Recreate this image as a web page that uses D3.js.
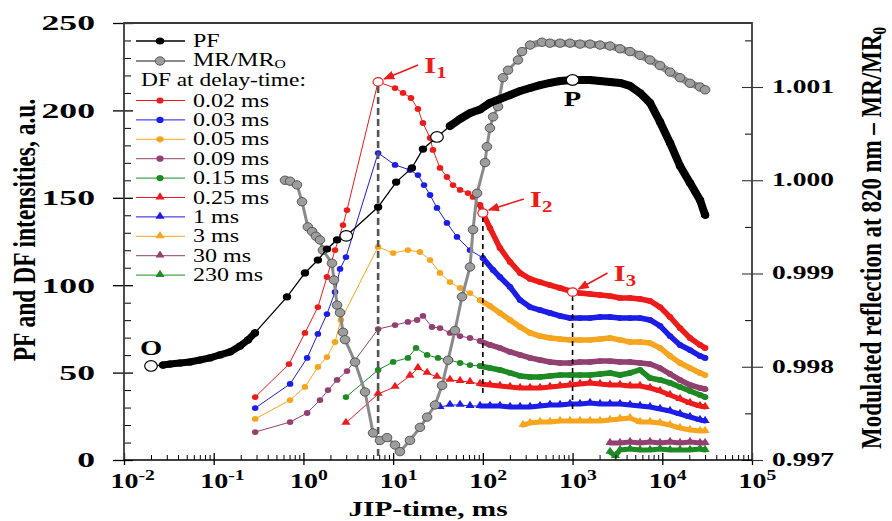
<!DOCTYPE html>
<html><head><meta charset="utf-8">
<script src="https://cdn.jsdelivr.net/npm/d3@7/dist/d3.min.js"></script>
<style>html,body{margin:0;padding:0;background:#fff;} svg{display:block;}</style>
</head><body>
<svg id="chart" width="892" height="521"></svg>
<script>
// ---------------- DATA ----------------
const xTickValues = [1e-2, 1e-1, 1e0, 1e1, 1e2, 1e3, 1e4, 1e5];
const xTickExponents = ["-2", "-1", "0", "1", "2", "3", "4", "5"];
const yLeftTicks = [0, 50, 100, 150, 200, 250];
const yRightTicks = [0.997, 0.998, 0.999, 1.000, 1.001];
const yRightLabels = ["0.997", "0.998", "0.999", "1.000", "1.001"];
const yRightMinor = [0.9975, 0.9985, 0.9995, 1.0005, 1.0015];

// PF (prompt fluorescence) [time ms, a.u.]
const pf = [[0.02,53.8],[0.0272,54.3],[0.0326,54.9],[0.0421,55.5],[0.0544,56.1],[0.0703,57.2],[0.0909,58.4],[0.1175,60.1],[0.152,61.8],[0.196,65.2],[0.241,68.7],[0.288,72.7],[0.656,93.3],[1.04,107.0],[1.45,114.4],[1.83,120.7],[2.37,125.9],[3.0,128.2],[6.8,144.7],[10.8,159.0],[16.2,167.1],[21.5,177.9],[30.8,184.8],[43,191.1],[55.7,195.1],[71.9,198.5],[93,200.5],[120,204.3],[155,206.5],[201,208.8],[260,211.1],[336,212.8],[434,214.5],[560,215.7],[725,216.8],[1000,217.4],[1211,217.4],[1565,217.4],[2023,216.8],[2615,216.3],[3380,215.7],[4370,214.0],[5650,210.0],[7300,204.3],[9440,193.4],[12200,181.4],[15770,168.2],[20380,158.5],[26340,148.7],[30000,140.2]];
const pfOpenTimes = [0.02, 3.0, 30.8, 1000];

// MR/MR0 (right axis)
const mr = [[0.623,1.00000],[0.71,0.99999],[0.848,0.99995],[0.964,0.99977],[1.12,0.99950],[1.25,0.99945],[1.38,0.99940],[1.53,0.99936],[1.65,0.99925],[2.08,0.99911],[2.19,0.99893],[2.37,0.99866],[2.56,0.99858],[2.76,0.99837],[2.91,0.99829],[3.76,0.99805],[4.86,0.99773],[5.97,0.99729],[7.14,0.99721],[8.55,0.99724],[10.5,0.99716],[11.9,0.99709],[15.4,0.99721],[19.9,0.99735],[23.9,0.99746],[29.3,0.99759],[35.1,0.99780],[40.9,0.99807],[48.9,0.99839],[58.6,0.99875],[71.9,0.99907],[77.7,0.99947],[86.1,0.99986],[105.7,1.00019],[111,1.00036],[120,1.00056],[130,1.00068],[147.5,1.00079],[167.8,1.00110],[190.8,1.00118],[246.6,1.00129],[273.3,1.00138],[336,1.00145],[456,1.00148],[560,1.00147],[725,1.00147],[937,1.00147],[1211,1.00146],[1565,1.00146],[2023,1.00145],[2615,1.00144],[3380,1.00141],[4370,1.00138],[5650,1.00134],[7300,1.00129],[9440,1.00123],[12200,1.00116],[15770,1.00110],[20380,1.00104],[26340,1.00100],[30000,1.00097]];

// DF at delay-times
const df002 = [[0.29,36.0],[0.69,54.9],[1.04,72.7],[1.45,87.5],[1.83,104.7],[2.25,120.1],[2.76,134.4],[3.06,143.0],[6.8,216.3],[10.5,212.8],[12.9,210.0],[15.8,207.1],[18.9,200.8],[21.5,192.8],[25.8,184.2],[27.8,177.4],[33.3,167.1],[39.8,161.9],[46.5,157.3],[55.7,154.5],[68.3,152.7],[77.7,150.5],[93,145.9],[100,141.3],[120,132.7],[155,121.3],[201,113.3],[260,107.0],[336,103.6],[434,101.8],[560,100.1],[725,98.4],[937,96.7],[1000,96.1],[1211,95.5],[1565,95.0],[2023,94.4],[2615,93.8],[3380,92.7],[4370,92.7],[5650,92.1],[7300,91.0],[9440,87.5],[12200,81.8],[15770,75.5],[20380,69.8],[26340,65.8],[30000,64.1]];
const df003 = [[0.29,29.7],[0.71,43.5],[1.10,58.4],[1.45,72.1],[1.83,83.5],[2.25,96.1],[2.56,109.3],[2.98,116.1],[6.8,175.6],[10.5,168.8],[15.4,165.9],[18.9,163.0],[22.1,157.3],[25.8,151.6],[30.8,144.2],[39.8,135.6],[51.5,127.6],[71.9,120.1],[100,115.6],[130,108.7],[155,104.7],[201,99.0],[260,91.5],[336,87.5],[434,85.8],[560,84.1],[725,82.4],[937,81.2],[1211,81.2],[1565,81.2],[2023,81.8],[2615,81.8],[3380,81.2],[4370,81.2],[5650,81.2],[7300,80.1],[9440,76.7],[12200,70.9],[15770,65.8],[20380,62.9],[26340,59.5],[30000,58.4]];
const df005 = [[0.29,23.5],[0.71,34.3],[1.04,41.8],[1.45,53.2],[1.83,58.9],[2.25,67.5],[2.62,80.1],[6.8,121.9],[10,118.4],[14.6,120.1],[19.9,119.0],[25.8,114.4],[33.3,107.0],[43,101.8],[55.7,98.4],[71.9,95.5],[93,91.5],[120,88.1],[155,84.1],[201,80.1],[260,76.1],[336,72.7],[434,70.9],[560,69.8],[725,69.2],[937,68.7],[1211,68.7],[1565,68.7],[2023,69.2],[2615,69.8],[3380,68.7],[4370,67.5],[5650,67.5],[7300,66.9],[9440,64.1],[12200,59.5],[15770,55.5],[20380,52.6],[26340,49.8],[30000,48.6]];
const df009 = [[0.29,16.0],[0.71,21.7],[1.10,26.9],[1.53,34.3],[1.88,40.0],[2.37,45.8],[3.06,50.9],[6.8,74.9],[10.5,77.2],[14.6,79.0],[18.5,80.1],[21.5,82.4],[27.1,76.1],[33.3,75.5],[43,72.7],[55.7,70.9],[71.9,69.8],[93,68.1],[120,65.8],[155,64.1],[201,61.8],[260,60.1],[336,58.4],[434,57.2],[560,56.1],[725,55.5],[937,55.5],[1211,56.1],[1565,56.1],[2023,56.6],[2615,56.6],[3380,56.1],[4370,56.1],[5650,55.5],[7300,54.9],[9440,52.6],[12200,49.2],[15770,45.8],[20380,42.9],[26340,41.2],[30000,40.6]];
const df015 = [[2.98,36.0],[6.8,51.5],[10,56.1],[14.6,58.4],[18.0,64.1],[23.9,60.1],[31.6,58.4],[43,57.2],[55.7,55.5],[71.9,54.3],[93,53.8],[120,52.6],[155,51.5],[201,49.8],[260,48.1],[336,47.5],[434,47.5],[560,48.1],[725,48.6],[937,48.6],[1211,48.6],[1565,48.6],[2023,49.2],[2615,49.8],[3380,48.6],[4370,49.8],[5650,51.5],[7300,46.9],[9440,45.8],[12200,44.1],[15770,41.8],[20380,39.5],[26340,37.2],[30000,36.0]];
const df025 = [[2.98,21.2],[6.8,37.8],[10.5,41.8],[15.4,48.1],[18.9,52.6],[23.9,49.8],[30.8,47.5],[43,45.8],[55.7,45.2],[71.9,44.6],[93,43.5],[120,42.9],[155,42.3],[201,41.8],[260,41.2],[336,41.2],[434,41.2],[560,41.8],[725,42.3],[937,42.9],[1211,43.5],[1565,44.1],[2023,43.5],[2615,42.9],[3380,42.9],[4370,42.3],[5650,42.3],[7300,41.2],[9440,39.5],[12200,37.2],[15770,34.9],[20380,32.6],[26340,30.9],[30000,30.3]];
const df1 = [[33.3,30.3],[43,31.5],[55.7,31.5],[71.9,30.9],[93,30.9],[120,30.9],[155,30.9],[201,30.3],[260,30.3],[336,30.3],[434,30.9],[560,31.5],[725,31.5],[937,32.0],[1211,32.0],[1565,32.6],[2023,32.0],[2615,32.0],[3380,32.0],[4370,31.5],[5650,30.9],[7300,30.3],[9440,29.2],[12200,28.0],[15770,26.3],[20380,24.6],[26340,22.9],[30000,22.3]];
const df3 = [[280,20.0],[336,21.2],[434,21.7],[560,21.7],[725,22.3],[937,22.3],[1211,22.3],[1565,22.3],[2023,22.3],[2615,22.9],[3380,23.5],[4370,24.0],[5650,21.7],[7300,21.7],[9440,21.2],[12200,20.0],[15770,18.3],[20380,17.2],[26340,16.6],[30000,16.6]];
const df30 = [[2615,9.7],[3380,9.7],[4370,10.3],[5650,9.7],[7300,10.3],[9440,9.7],[12200,10.3],[15770,9.7],[20380,10.3],[26340,9.7],[30000,9.7]];
const df230 = [[2615,4.6],[3000,2.3],[3380,5.7],[4370,6.3],[5650,5.7],[7300,5.7],[9440,6.3],[12200,5.7],[15770,5.7],[20380,5.7],[26340,6.3],[30000,5.7]];

const dfLabels = ["0.02 ms","0.03 ms","0.05 ms","0.09 ms","0.15 ms","0.25 ms","1 ms","3 ms","30 ms","230 ms"];
const dfOpenTimes = [6.8, 100, 1000];   // I1, I2, I3 on 0.02 ms curve
const dfOpenValues = [216.3, 141.3, 96.1];
const dashBottomValues = [0, 36, 27];

// ---------------- STYLE ----------------
const RED="#ee1b1b", BLUE="#1d1de8", ORANGE="#f7a51e", PURPLE="#924070", GREEN="#1e8a24";
const FONT="'Liberation Serif','Times New Roman',serif";
const dfStyle = [
  {data:df002,color:RED,shape:"c"},{data:df003,color:BLUE,shape:"c"},{data:df005,color:ORANGE,shape:"c"},
  {data:df009,color:PURPLE,shape:"c"},{data:df015,color:GREEN,shape:"c"},{data:df025,color:RED,shape:"t"},
  {data:df1,color:BLUE,shape:"t"},{data:df3,color:ORANGE,shape:"t"},{data:df30,color:PURPLE,shape:"t"},
  {data:df230,color:GREEN,shape:"t"}
];

const svg=d3.select("#chart");
const x=d3.scaleLog().domain([1e-2,1e5]).range([124,752]);
const yL=d3.scaleLinear().domain([0,250]).range([460,23]);
const yR=d3.scaleLinear().domain([0.997,1.001]).range([460,87]);
const [X0,X1]=x.range(), [Y0,Y1]=yL.range();

// ---------- helpers ----------
function ell(g,cx,cy,rx,ry,fill,stroke,sw){
  return g.append("ellipse").attr("cx",cx).attr("cy",cy).attr("rx",rx).attr("ry",ry)
    .attr("fill",fill).attr("stroke",stroke||"none").attr("stroke-width",sw||0);
}
const triPath=d3.symbol().type(d3.symbolTriangle).size(30)();
function tri(g,cx,cy,color){
  return g.append("path").attr("d",triPath).attr("transform",`translate(${cx},${cy}) scale(1.1,1)`).attr("fill",color);
}
function stext(g,px,py,sx,size,weight,anchor,color){
  return g.append("text").attr("transform",`translate(${px},${py}) scale(${sx},1)`)
    .attr("font-family",FONT).attr("font-size",size).attr("font-weight",weight)
    .attr("text-anchor",anchor).attr("fill",color||"#000");
}

// ---------- DF series ----------
const plot=svg.append("g");
const bandFrom=90;
dfStyle.slice().reverse().forEach(s=>{
  const gl=plot.append("g");
  const ln=d3.line().x(d=>x(d[0])).y(d=>yL(d[1]));
  gl.append("path").attr("d",ln(s.data)).attr("fill","none").attr("stroke",s.color).attr("stroke-width",1);
  const band=s.data.filter(d=>d[0]>=bandFrom);
  if(band.length>1) gl.append("path").attr("d",ln(band)).attr("fill","none").attr("stroke",s.color)
     .attr("stroke-width",s.shape==="c"?5.5:5).attr("stroke-linejoin","round").attr("stroke-linecap","round");
  s.data.forEach(d=>{
    if(s.shape==="c") ell(gl,x(d[0]),yL(d[1]),3.3,2.9,s.color);
    else tri(gl,x(d[0]),yL(d[1])-0.5,s.color);
  });
});

// ---------- dashed verticals ----------
dfOpenTimes.forEach((t,i)=>{
  plot.append("line").attr("x1",x(t)).attr("x2",x(t)).attr("y1",yL(dfOpenValues[i])+4).attr("y2",yL(dashBottomValues[i]))
    .attr("stroke",i===0?"#555":"#000").attr("stroke-width",i===0?2.6:1.6).attr("stroke-dasharray",i===0?"7,4":"5,4");
});

// ---------- MR ----------
const gm=plot.append("g");
const lnR=d3.line().x(d=>x(d[0])).y(d=>yR(d[1]));
gm.append("path").attr("d",lnR(mr)).attr("fill","none").attr("stroke","#8a8a8a").attr("stroke-width",3);
gm.append("path").attr("d",lnR(mr.filter(d=>d[0]>=330))).attr("fill","none").attr("stroke","#8f8f8f").attr("stroke-width",7).attr("stroke-linecap","round");
mr.forEach(d=>ell(gm,x(d[0]),yR(d[1]),4.8,4.2,"#9d9d9d","#4d4d4d",0.9));

// ---------- PF ----------
const gp=plot.append("g");
const lnL=d3.line().x(d=>x(d[0])).y(d=>yL(d[1]));
gp.append("path").attr("d",lnL(pf)).attr("fill","none").attr("stroke","#000").attr("stroke-width",1.3);
gp.append("path").attr("d",lnL(pf.filter(d=>d[0]>0.025&&d[0]<0.3))).attr("fill","none").attr("stroke","#000").attr("stroke-width",7).attr("stroke-linecap","round");
gp.append("path").attr("d",lnL(pf.filter(d=>d[0]>=40))).attr("fill","none").attr("stroke","#000").attr("stroke-width",8).attr("stroke-linecap","round").attr("stroke-linejoin","round");
pf.filter(d=>!pfOpenTimes.includes(d[0])).forEach(d=>ell(gp,x(d[0]),yL(d[1]),4.2,3.6,"#000"));
pf.filter(d=>pfOpenTimes.includes(d[0])).forEach(d=>ell(gp,x(d[0]),yL(d[1]),6.3,5.3,"#fff","#000",1.2));

// open red points
dfOpenTimes.forEach((t,i)=>ell(plot,x(t),yL(dfOpenValues[i]),5,4.2,"#fff",RED,1.2));

// ---------- annotations ----------
const defs=svg.append("defs");
defs.append("marker").attr("id","arr").attr("viewBox","0 0 10 10").attr("refX",9).attr("refY",5)
  .attr("markerWidth",7).attr("markerHeight",7).attr("orient","auto")
  .append("path").attr("d","M0,1 L10,5 L0,9 Z").attr("fill",RED);
const ann=svg.append("g");
const annOffsets=[[46,-9],[47,-6],[41,-11]];
dfOpenTimes.forEach((t,i)=>{
  const px=x(t), py=yL(dfOpenValues[i]);
  const [ox,oy]=annOffsets[i];
  ann.append("line").attr("x1",px+ox-6).attr("y1",py+oy-8).attr("x2",px+6).attr("y2",py-3)
    .attr("stroke",RED).attr("stroke-width",1.6).attr("marker-end","url(#arr)");
  const t1=stext(ann,px+ox,py+oy,1.3,24,"bold","start",RED);
  t1.append("tspan").text("I");
  t1.append("tspan").attr("font-size",16).attr("dy",5).text(String(i+1));
});
// O and P labels
stext(ann,x(pfOpenTimes[0]),yL(pf[0][1])-11,1.3,22,"bold","middle").text("O");
stext(ann,x(1000),yL(217.4)+26,1.3,22,"bold","middle").text("P");

// ---------- axes ----------
const axG=svg.append("g");
// bottom
const gx=axG.append("g").attr("transform",`translate(0,${Y0})`)
  .call(d3.axisBottom(x).tickValues(xTickValues).tickSize(-7).tickFormat(""));
gx.select(".domain").remove();
gx.selectAll(".tick line").attr("y1",5).attr("stroke-width",1.3);
gx.selectAll(".tick").each(function(d,i){
  const t=d3.select(this).append("text").attr("transform","translate(0,28) scale(1.4,1)")
    .attr("x",-10).attr("font-family",FONT).attr("font-size",20).attr("font-weight","bold").attr("fill","#000").attr("text-anchor","start");
  t.append("tspan").text("10");
  t.append("tspan").attr("dy",-8).attr("font-size",14).text(xTickExponents[i]);
});
const minorX=x.ticks().filter(v=>Math.abs(Math.log10(v)-Math.round(Math.log10(v)))>1e-6);
const gxm=axG.append("g").attr("transform",`translate(0,${Y0})`)
  .call(d3.axisBottom(x).tickValues(minorX).tickSize(-5).tickFormat(""));
gxm.select(".domain").remove();
// left
const gyl=axG.append("g").attr("transform",`translate(${X0},0)`)
  .call(d3.axisLeft(yL).tickValues(yLeftTicks).tickSize(11).tickFormat(""));
gyl.select(".domain").remove();
gyl.selectAll(".tick line").attr("x1",9).attr("stroke-width",1.3);
gyl.selectAll(".tick").append("text").attr("transform","translate(-29,0) scale(1.7,1)").attr("dy","0.33em")
  .attr("font-family",FONT).attr("font-size",21).attr("font-weight","bold").attr("fill","#000").attr("text-anchor","end")
  .text(d=>d);
const gylm=axG.append("g").attr("transform",`translate(${X0},0)`)
  .call(d3.axisLeft(yL).tickValues(d3.range(0,251,10).filter(v=>v%50)).tickSize(-7).tickFormat(""));
gylm.select(".domain").remove();
// right
const gyr=axG.append("g").attr("transform",`translate(${X1},0)`)
  .call(d3.axisRight(yR).tickValues(yRightTicks).tickSize(11).tickFormat(""));
gyr.select(".domain").remove();
gyr.selectAll(".tick line").attr("x1",-10).attr("stroke-width",1.1).attr("stroke","#333");
gyr.selectAll(".tick").append("text").attr("transform","translate(20,0) scale(1.45,1)").attr("dy","0.28em")
  .attr("font-family",FONT).attr("font-size",19).attr("font-weight","bold").attr("fill","#000").attr("text-anchor","start")
  .text((d,i)=>yRightLabels[i]);
const gyrm=axG.append("g").attr("transform",`translate(${X1},0)`)
  .call(d3.axisRight(yR).tickValues(yRightMinor).tickSize(-7).tickFormat(""));
gyrm.select(".domain").remove();
// frame
axG.append("path").attr("d",`M${X0},${Y0}V${Y1}H${X1}V${Y0}`).attr("fill","none").attr("stroke","#3a3a3a").attr("stroke-width",1.8);
axG.append("line").attr("x1",X0).attr("x2",X1).attr("y1",Y0).attr("y2",Y0).attr("stroke","#000").attr("stroke-width",1.5);

// axis titles
stext(axG,(X0+X1)/2-10,516,1.33,22,"bold","middle").text("JIP-time, ms");
axG.append("text").attr("transform","translate(24,230) rotate(-90) scale(1,1.35)").attr("dy","0.35em")
  .attr("font-family",FONT).attr("font-size",23.5).attr("font-weight","bold").attr("text-anchor","middle").text("PF and DF intensities, a.u.");
const rt=axG.append("text").attr("transform","translate(871,238) rotate(-90) scale(1,1.25)").attr("dy","0.35em")
  .attr("font-family",FONT).attr("font-size",23).attr("font-weight","bold").attr("text-anchor","middle");
rt.append("tspan").text("Modulated reflection at 820 nm \u2013 MR/MR");
rt.append("tspan").attr("font-size",15).attr("dy",4).text("0");

// ---------- legend ----------
const lg=svg.append("g");
const LX0=136, LX1=185, LM=160, LT=193;
// PF
lg.append("line").attr("x1",LX0).attr("x2",LX1).attr("y1",41).attr("y2",41).attr("stroke","#000").attr("stroke-width",1.3);
ell(lg,LM,41,4.2,3.6,"#000");
stext(lg,LT,47,1.3,18.5,"normal","start").text("PF");
// MR
lg.append("line").attr("x1",LX0).attr("x2",LX1).attr("y1",61).attr("y2",61).attr("stroke","#8a8a8a").attr("stroke-width",2);
ell(lg,LM,61,4.8,4.2,"#9d9d9d","#4d4d4d",0.9);
const mt=stext(lg,LT,66,1.3,18.5,"normal","start");
mt.append("tspan").text("MR/MR");
mt.append("tspan").attr("font-size",12).attr("dy",2).text("O");
stext(lg,141,85.5,1.3,18,"normal","start").text("DF at delay-time:");
dfStyle.forEach((s,k)=>{
  const yy=100.5+19.4*k;
  lg.append("line").attr("x1",LX0).attr("x2",LX1).attr("y1",yy).attr("y2",yy).attr("stroke",s.color).attr("stroke-width",1);
  if(s.shape==="c") ell(lg,LM,yy,3.6,3.1,s.color); else tri(lg,LM,yy-0.5,s.color);
  stext(lg,LT,yy+6,1.3,18.5,"normal","start").text(dfLabels[k]);
});
</script>
</body></html>
